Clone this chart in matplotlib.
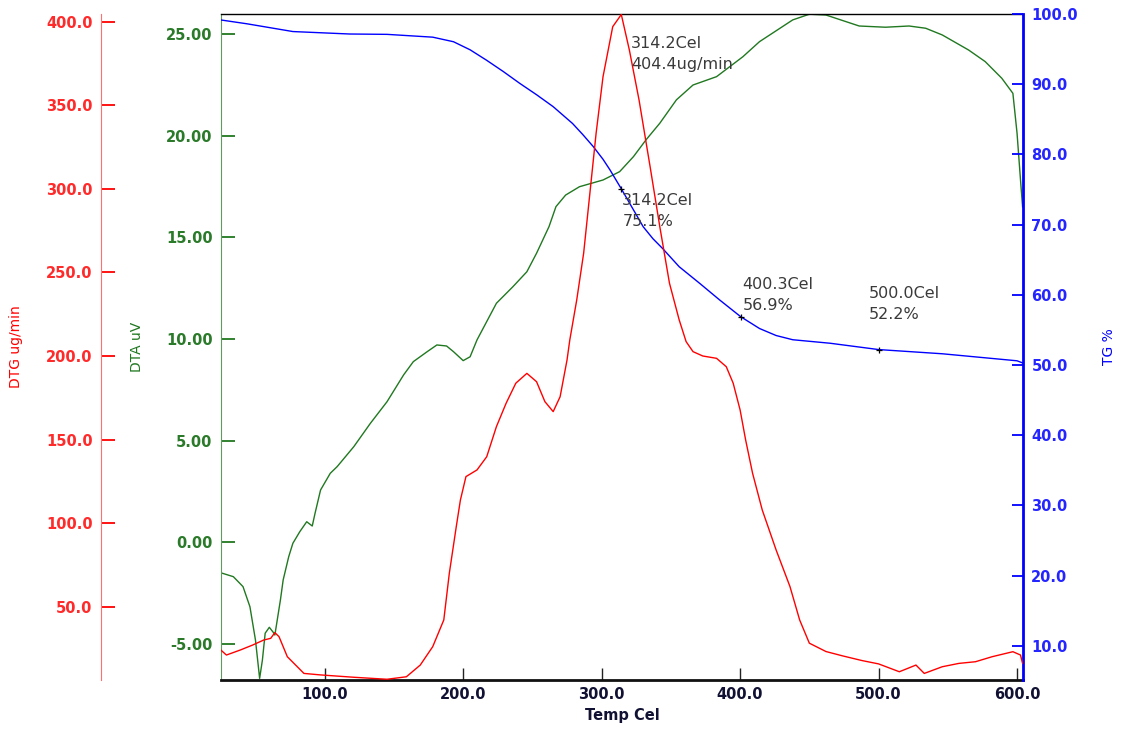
import matplotlib.pyplot as plt
from matplotlib.ticker import FormatStrFormatter

# DTA curve (uV)
dta_temp = [25, 34, 41, 46, 50, 53, 55, 57, 60, 63, 64, 68, 70, 74, 77, 82, 87, 91, 93, 97,
            104, 109, 121, 133, 145, 157, 164, 174, 181, 188, 193, 200, 205, 210, 217, 224,
            236, 246, 253, 262, 267, 274, 284, 301, 313, 323, 332, 342, 354, 366, 383, 402,
            414, 438, 450, 462, 486, 505, 522, 534, 546, 565, 577, 589, 597, 600, 602.5, 604]
dta_val = [-1.49, -1.68, -2.17, -3.16, -4.8, -6.68, -5.78, -4.46, -4.17, -4.43, -4.55, -2.83,
           -1.84, -0.7, -0.04, 0.53, 1.02, 0.81, 1.43, 2.58, 3.40, 3.73, 4.71, 5.86, 6.92, 8.24,
           8.89, 9.38, 9.71, 9.66, 9.38, 8.94, 9.13, 9.96, 10.86, 11.76, 12.58, 13.31, 14.22,
           15.53, 16.51, 17.08, 17.49, 17.82, 18.23, 18.97, 19.79, 20.61, 21.76, 22.49, 22.9,
           23.88, 24.62, 25.69, 25.97, 25.93, 25.39, 25.33, 25.39, 25.28, 24.95, 24.21, 23.64,
           22.82, 22.08, 20.12, 17.82, 16.5]

# DTG curve (ug/min)
dtg_temp = [25, 29, 39, 48, 56, 61, 64, 67, 73, 85, 97, 121, 145, 159, 169, 178, 186, 190,
            195, 198, 202, 210, 217, 224, 231, 238, 246, 253, 259, 265, 270, 275, 277, 282,
            287, 291, 296, 301, 308, 314.2, 320, 327, 335, 342, 349, 356, 361, 366, 373, 383,
            390, 395, 400, 404, 409, 416, 426, 436, 443, 450, 462, 474, 488, 500, 515, 527,
            533, 546, 558, 570, 582, 597, 602.5, 604]
dtg_val = [24.0, 21.0, 24.0, 27.0, 30.0, 31.0, 34.4, 32.0, 20.0, 10.0, 9.1, 7.7, 6.5, 8.0,
           15.0, 26.0, 42.0, 70.0, 97.8, 113.8, 127.8, 131.8, 139.7, 157.7, 171.7, 183.7,
           189.6, 184.6, 172.7, 166.7, 175.6, 197.6, 209.6, 233.5, 261.5, 293.4, 333.3, 367.2,
           397.1, 404.4, 383.2, 353.3, 313.3, 277.4, 243.5, 221.6, 208.6, 202.6, 200.0, 198.6,
           193.6, 183.7, 167.7, 149.7, 129.8, 107.8, 83.9, 62.0, 42.0, 28.1, 23.1, 20.5, 17.7,
           15.7, 11.0, 15.0, 10.0, 14.0, 16.0, 17.0, 20.0, 23.0, 21.0, 16.0]

# TG curve (%)
tg_temp = [25, 44, 77, 118, 145, 178, 193, 205, 217, 229, 241, 253, 265, 272, 279, 286.5,
           294, 301, 306, 314.2, 330, 337, 344, 356, 371, 385, 400.3, 414, 426, 438, 465,
           500, 546, 600, 604]
tg_val = [99.15, 98.6, 97.5, 97.15, 97.1, 96.7, 96.05, 94.9, 93.4, 91.8, 90.1, 88.5, 86.8,
          85.6, 84.4, 82.8, 81.1, 79.3, 77.8, 75.1, 69.7, 68.0, 66.6, 64.0, 61.6, 59.3, 56.9,
          55.2, 54.2, 53.6, 53.1, 52.2, 51.6, 50.6, 50.3]

# marked points
dtg_peak = (314.2, 404.4)
tg_marks_temp = [314.2, 400.3, 500.0]
tg_marks_val = [75.1, 56.9, 52.2]

red = '#ff0000'
green = '#207820'
blue = '#0000ff'
txt = '#3a3a3a'

fig = plt.figure(figsize=(11.21, 7.31), dpi=100)
ax = fig.add_axes([221/1121, 1 - 680/731, 802/1121, 666/731])

# DTA on host axes
ax.plot(dta_temp, dta_val, color=green, lw=1.0)
ax.set_xlim(25.1, 604.3)
ax.set_ylim(-6.76, 25.98)
ax.set_yticks([-5, 0, 5, 10, 15, 20, 25])
ax.yaxis.set_major_formatter(FormatStrFormatter('%.2f'))
ax.set_xticks([100, 200, 300, 400, 500, 600])
ax.xaxis.set_major_formatter(FormatStrFormatter('%.1f'))
ax.tick_params(axis='y', direction='in', length=10, width=1.3, color=green,
               labelcolor='#2a7a2a', labelsize=10.5, pad=6)
ax.tick_params(axis='x', direction='in', length=8.5, width=1.0, color='#222222',
               labelcolor='#111133', labelsize=10.5, pad=5)
for lab in ax.get_xticklabels() + ax.get_yticklabels():
    lab.set_fontweight('bold')
ax.spines['left'].set_color('#5f9a5f')
ax.spines['bottom'].set_linewidth(2.0)
ax.spines['bottom'].set_color('#111111')
ax.spines['top'].set_linewidth(1.0)
ax.spines['right'].set_visible(False)
ax.set_ylabel('DTA uV', color=green, fontsize=10)
ax.yaxis.set_label_coords(-0.096, 0.5)
ax.set_xlabel('Temp Cel', color='#111133', fontsize=10.5, fontweight='bold')
ax.xaxis.set_label_coords(0.5, -0.042)

# TG on right axis
tg = ax.twinx()
tg.plot(tg_temp, tg_val, color=blue, lw=1.0)
tg.plot(tg_marks_temp, tg_marks_val, '+', color='k', ms=5, mew=0.9)
tg.set_ylim(5.13, 100.0)
tg.set_yticks([10, 20, 30, 40, 50, 60, 70, 80, 90, 100])
tg.yaxis.set_major_formatter(FormatStrFormatter('%.1f'))
tg.tick_params(axis='y', direction='in', length=8, width=1.3, color=blue,
               labelcolor='#2525ff', labelsize=10.5, pad=6)
for lab in tg.get_yticklabels():
    lab.set_fontweight('bold')
for s in ['left', 'top', 'bottom']:
    tg.spines[s].set_visible(False)
tg.spines['right'].set_color(blue)
tg.spines['right'].set_linewidth(2.0)
tg.set_ylabel('TG %', color=blue, fontsize=10)
tg.yaxis.set_label_coords(1.098, 0.5)

# DTG on an offset left axis
dtg = ax.twinx()
dtg.plot(dtg_temp, dtg_val, color=red, lw=1.0)
dtg.set_ylim(6.06, 404.7)
dtg.set_yticks([50, 100, 150, 200, 250, 300, 350, 400])
dtg.yaxis.set_major_formatter(FormatStrFormatter('%.1f'))
dtg.spines['left'].set_position(('axes', -0.1496))
dtg.spines['left'].set_visible(True)
dtg.spines['left'].set_color('#ff7070')
for s in ['right', 'top', 'bottom']:
    dtg.spines[s].set_visible(False)
dtg.yaxis.set_ticks_position('left')
dtg.yaxis.set_label_position('left')
dtg.tick_params(axis='y', direction='in', length=10, width=1.3, color=red,
                labelcolor='#ff2a2a', labelsize=10.5, pad=6)
for lab in dtg.get_yticklabels():
    lab.set_fontweight('bold')
dtg.set_ylabel('DTG ug/min', color=red, fontsize=10)
dtg.yaxis.set_label_coords(-0.2465, 0.5)

# annotations
dtg.annotate('%.1fCel\n%.1fug/min' % dtg_peak, xy=dtg_peak, xytext=(10, -21),
             textcoords='offset pixels', ha='left', va='top', fontsize=11.5,
             color=txt, linespacing=1.5)
offsets = [((1, -4), 'top'), ((2, 4), 'bottom'), ((-10, 28), 'bottom')]
for t, v, (off, va) in zip(tg_marks_temp, tg_marks_val, offsets):
    tg.annotate('%.1fCel\n%.1f%%' % (t, v), xy=(t, v), xytext=off,
                textcoords='offset pixels', ha='left', va=va, fontsize=11.5,
                color=txt, linespacing=1.5)

plt.savefig('out.png', dpi=100)
